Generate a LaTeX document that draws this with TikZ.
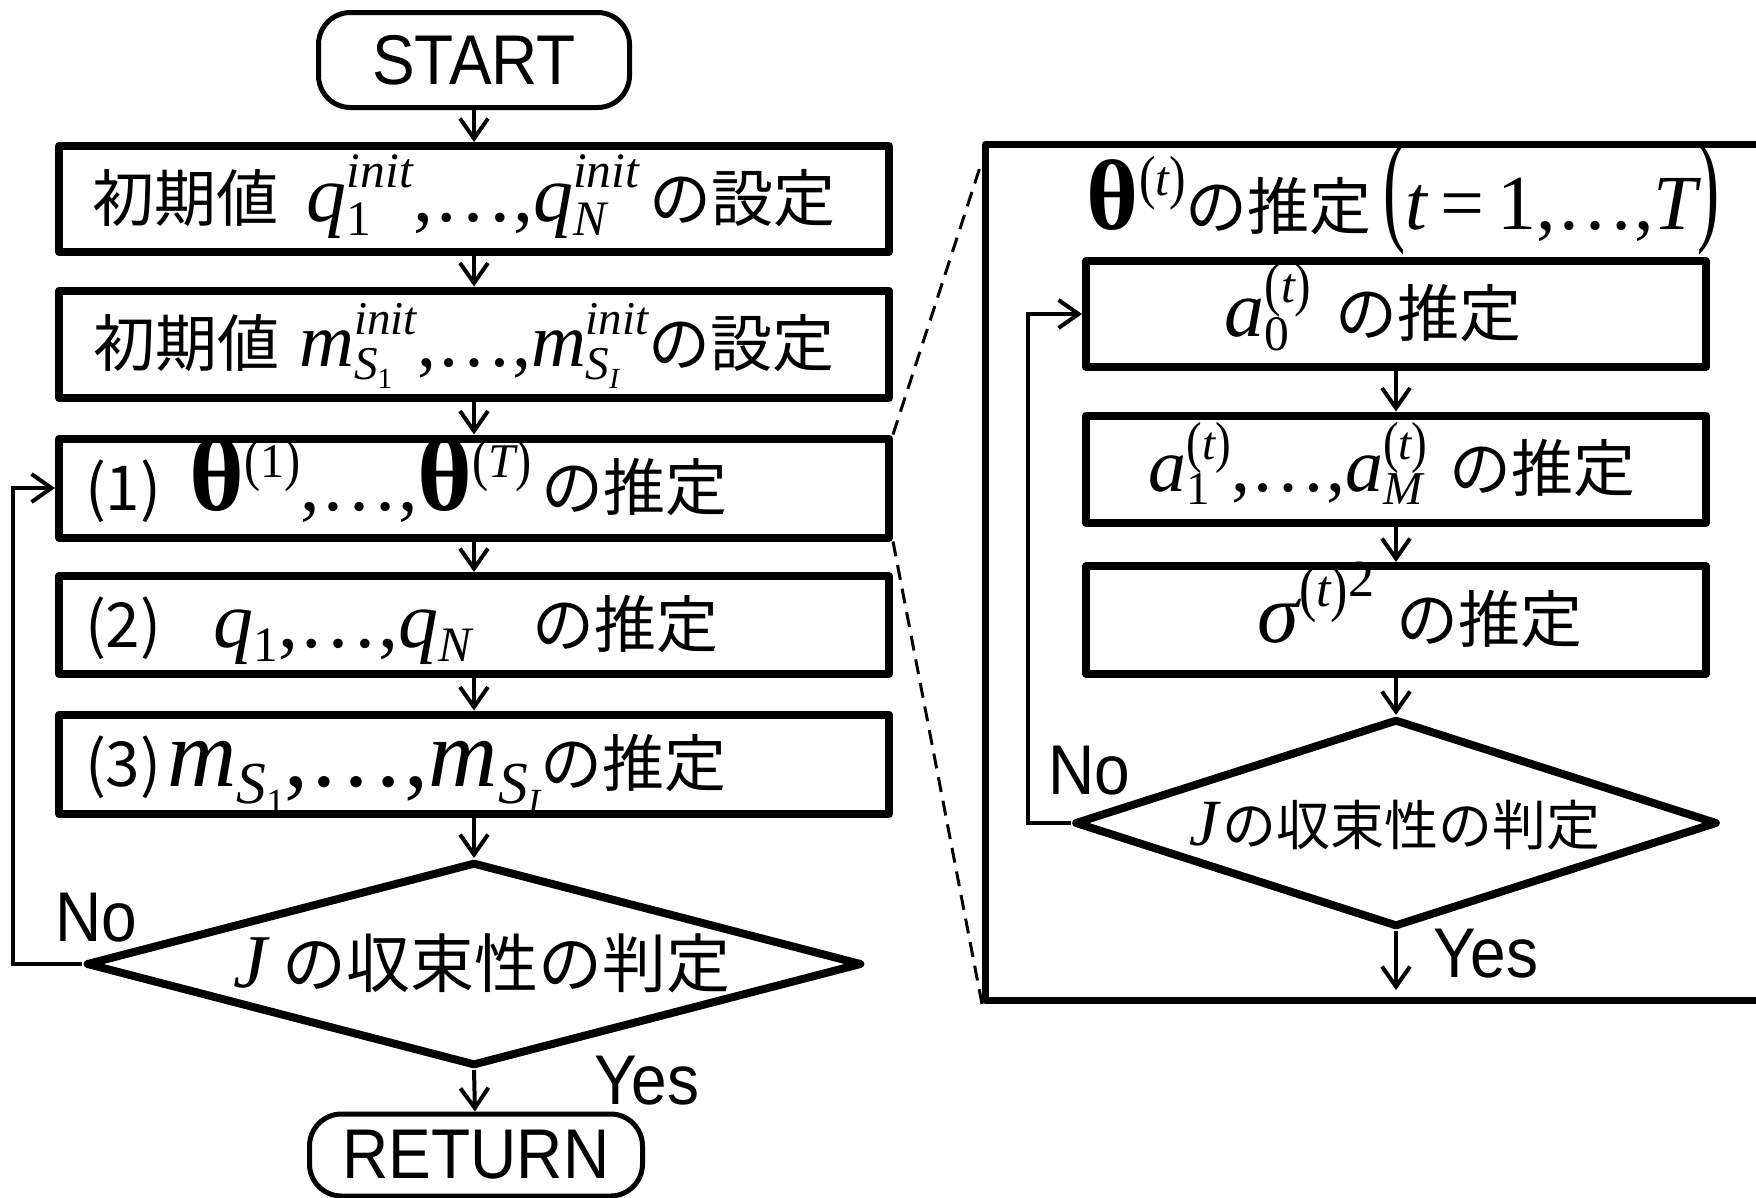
\documentclass[tikz,border=0pt]{standalone}
\usepackage{fontspec}
\usepackage{graphicx}
\setmainfont{Liberation Sans}
\newfontfamily\jp{Noto Sans CJK JP}
\newfontfamily\tms{Liberation Serif}
\usetikzlibrary{arrows.meta,shapes.geometric,calc}
% Times-like formula pieces, scripts placed by hand
\newcommand\I[1]{{\tms\itshape #1}}
\newcommand\R[1]{{\tms #1}}
\newcommand\B{{\tms\bfseries\scalebox{1.25}[1.25]{θ}}}
\newcommand\Bb{{\tms\bfseries\scalebox{1.35}[1.35]{θ}}}
\newcommand\cdts{\R{,\ldots,}}
\newcommand\pp[1]{\R{\raisebox{-0.05em}{\scalebox{1}[1.2]{(}}}#1\R{\raisebox{-0.05em}{\scalebox{1}[1.2]{)}}}}
\newcommand\scr[1]{\scalebox{0.62}{#1}}
\newcommand\Sup[1]{\raisebox{0.42em}{\scr{#1}}}
\newcommand\Sub[1]{\raisebox{-0.18em}{\scr{#1}}}
\newsavebox\supbx
\newsavebox\subbx
\newlength\sswd
\newcommand\SupSub[2]{%
  \sbox\supbx{\scr{#1}}\sbox\subbx{\scr{#2}}%
  \ifdim\wd\supbx>\wd\subbx\setlength\sswd{\wd\supbx}\else\setlength\sswd{\wd\subbx}\fi
  \makebox[\sswd][l]{\rlap{\raisebox{0.42em}{\usebox\supbx}}\raisebox{-0.18em}{\usebox\subbx}}}
\newcommand\Fs[2]{{\fontsize{#1}{#1}\selectfont #2}}
\newcommand\tallp[1]{\raisebox{0.01em}{\scalebox{0.85}[1.6]{\tms #1}}}
\newcommand\stretched[1]{\scalebox{1}[1.1]{#1}}
\begin{document}
\begin{tikzpicture}[x=1pt,y=-1pt,
  big/.style={font=\fontsize{62}{72}\selectfont},
  mid/.style={font=\fontsize{54}{64}\selectfont},
  bx/.style={draw, line width=8pt, line join=round, inner sep=0pt, big,
             text height=44pt, text depth=0pt},
  lbox/.style={bx, minimum width=830pt, text width=778pt, align=left},
  cbox/.style={bx, minimum width=830pt, align=center},
  rbox/.style={bx, minimum width=620pt, align=center},
  term/.style={draw, line width=5pt, rounded corners=32pt, inner sep=0pt,
               font=\fontsize{64}{72}\selectfont},
  dec/.style={draw, diamond, line width=8pt, line join=round, inner sep=0pt, aspect=3.5},
  arr/.style={line width=4pt, -{Straight Barb[length=20pt,width=28pt]}},
  tag/.style={inner sep=0pt, font=\fontsize{64}{72}\selectfont},
  zoomline/.style={line width=3pt, dash pattern=on 15pt off 9pt},
]
\clip (0,0) rectangle (1756,1197);

% ---------- main loop ----------
\node[term, minimum width=311pt, minimum height=95pt] (start) at (474,60) {\stretched{START}};
\node[cbox, minimum height=106pt] (b1) at (474,199)
  {{\jp 初期値}\hspace{28pt}\Fs{80}{\I{q}\SupSub{\I{init}}{\R{1}}\cdts\I{q}\SupSub{\I{init}}{\I{N}}}\hspace{10pt}{\jp の設定}\hspace{20pt}};
\node[cbox, minimum height=107pt] (b2) at (474,344)
  {{\jp 初期値}\hspace{20pt}\Fs{76}{\I{m}\SupSub{\I{init}}{\I{S}\Sub{\R{1}}}\cdts\I{m}\SupSub{\I{init}}{\I{S}\Sub{\I{I}}}}{\jp の設定}\hspace{20pt}};
\node[lbox, minimum height=99pt] (bt) at (474,488)
  {{\jp (1)}\hspace{28pt}\Fs{78}{\Bb\Sup{\pp{\R{1}}}\cdts\Bb\Sup{\pp{\I{T}}}}\hspace{10pt}{\jp の推定}};
\node[lbox, minimum height=98pt] (bq) at (474,625)
  {{\jp (2)}\hspace{52pt}\Fs{80}{\I{q}\Sub{\R{1}}\cdts\I{q}\Sub{\I{N}}}\hspace{61pt}{\jp の推定}};
\node[lbox, minimum height=99pt] (bm) at (474,764)
  {{\jp (3)}\hspace{6pt}\Fs{96}{\I{m}\Sub{\I{S}\Sub{\R{1}}}\cdts\I{m}\Sub{\I{S}\Sub{\I{I}}}}{\jp の推定}};
\node[dec, minimum width=776pt, minimum height=204pt] (d1) at (474,964) {};
\node[inner sep=0pt, anchor=base, font=\fontsize{64}{72}\selectfont] (d1t) at (482,987)
  {\Fs{76}{\I{J}}\hspace{16pt}{\jp の収束性の判定}};
\node[term, minimum width=333pt, minimum height=82pt] (ret) at (476,1155) {\stretched{RETURN}};

\node[tag] (no1) at (96,918) {\stretched{No}};
\node[tag] (yes1) at (647,1081) {\stretched{Yes}};

\draw[arr] (start) -- (b1);
\draw[arr] (b1) -- (b2);
\draw[arr] (b2) -- (bt);
\draw[arr] (bt) -- (bq);
\draw[arr] (bq) -- (bm);
\draw[arr] (bm) -- (d1.north);
\draw[arr] (d1.south) -- (ret);
\coordinate (fbL) at (13,0);
\draw[arr] (d1.west) -- (d1.west -| fbL) |- (bt.west);

% ---------- detail of step (1) ----------
\node[draw, line width=7pt, line join=round, inner sep=0pt, anchor=north west,
      minimum width=830pt, minimum height=856pt] (panel) at (982,141) {};
\node[inner sep=0pt, anchor=base, big] (title) at (1403,229)
  {\Fs{80}{\B\Sup{\pp{\I{t}}}}{\jp の推定}\hspace{12pt}\Fs{78}{\tallp{(}\I{t}\R{\,=\,1,\ldots,}\I{T}\tallp{)}}};
\node[rbox, minimum height=106pt] (ra) at (1396,314)
  {\Fs{80}{\I{a}\SupSub{\pp{\I{t}}}{\R{0}}}\hspace{24pt}{\jp の推定}\hspace{46pt}};
\node[rbox, minimum height=107pt] (rb) at (1396,469)
  {\Fs{76}{\I{a}\SupSub{\pp{\I{t}}}{\R{1}}\cdts\I{a}\SupSub{\pp{\I{t}}}{\I{M}}}\hspace{22pt}{\jp の推定}\hspace{8pt}};
\node[rbox, minimum height=108pt] (rc) at (1396,620)
  {\hspace{48pt}\Fs{84}{\I{σ}\Sup{\pp{\I{t}}\raisebox{0.2em}{\R{2}}}}\hspace{22pt}{\jp の推定}};
\node[dec, minimum width=643pt, minimum height=208pt] (rd) at (1396,823) {};
\node[inner sep=0pt, anchor=base, mid] (rdt) at (1395,845)
  {\Fs{66}{\I{J}}\hspace{4pt}{\jp の収束性の判定}};

\node[tag] (no2) at (1089,771) {\stretched{No}};
\node[tag] (yes2) at (1486,954) {\stretched{Yes}};

\draw[arr] (ra) -- (rb);
\draw[arr] (rb) -- (rc);
\draw[arr] (rc) -- (rd.north);
\coordinate (rend) at (1396,990);
\draw[arr] (rd.south) -- (rend);
\coordinate (fbR) at (1028,0);
\draw[arr] (rd.west) -- (rd.west -| fbR) |- (ra.west);

% dashed zoom lines
\draw[zoomline] (bt.north east) -- ($(panel.north west)+(0,20)$);
\draw[zoomline] (bt.south east) -- (panel.south west);
\end{tikzpicture}
\end{document}
